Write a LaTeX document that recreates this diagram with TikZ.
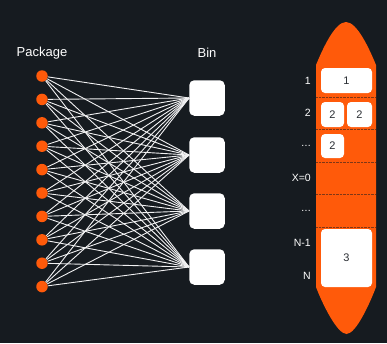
\documentclass[tikz,border=0pt]{standalone}
\usepackage{fontspec}
\setmainfont{Liberation Sans}
\definecolor{bgdark}{HTML}{161B20}
\definecolor{pkgorange}{HTML}{FF5A0A}
\definecolor{slottext}{HTML}{2A2E33}
\newcommand{\rowdots}{.\kern0.4pt.\kern0.4pt.}
\begin{document}
\begin{tikzpicture}[x=1pt,y=-1pt,
    pkg/.style={circle,fill=pkgorange,minimum size=11.5pt,inner sep=0pt},
    bin/.style={fill=white,rounded corners=5pt,minimum size=35.5pt,inner sep=0pt},
    slot/.style={fill=white,rounded corners=4pt,inner sep=0pt,text=slottext,
      font=\fontsize{11}{12}\selectfont},
    rowlbl/.style={anchor=east,text=white,inner sep=0pt,font=\fontsize{10.5}{11}\selectfont},
    title/.style={text=white,font=\fontsize{13}{14}\selectfont}]
    \fill[bgdark] (0,0) rectangle (387,343);
    % left part: packages to bins
    \node[title] (pkgtitle) at (42,53) {Package};
    \node[title] (bintitle) at (207,53) {Bin};
    \foreach \i in {0,...,9}
      \node[pkg] (p\i) at (42,{76+23.4*\i}) {};
    \foreach \j/\y in {0/98,1/155,2/211,3/267}
      \node[bin] (b\j) at (207,\y) {};
    \foreach \i in {0,...,9}
      \foreach \j in {0,...,3}
        \draw[white!94!bgdark,line width=0.9pt] (p\i) -- (b\j.west);
    % right part: the ship
    \fill[pkgorange] (316,65) .. controls (323,48) and (335,22) .. (346,22)
      .. controls (357,22) and (369,48) .. (376,65) -- (376,287)
      .. controls (370,303) and (356,334) .. (346.5,334)
      .. controls (337,334) and (322,303) .. (316,287) -- cycle;
    \foreach \y in {97,129,162,194,227}{
      \coordinate (sl\y) at (316,\y);
      \coordinate (sr\y) at (376,\y);
      \draw[bgdark!55!pkgorange,densely dotted,line width=0.4pt] (sl\y) -- (sr\y);
    }
    \foreach \t/\y in {1/81,2/113,\rowdots/146,X=0/178,\rowdots/211,N-1/243,N/276}
      \node[rowlbl] at (311,\y) {\t};
    \node[slot,minimum width=51pt,minimum height=25pt] (s1) at (346.5,80.5) {1};
    \node[slot,minimum width=23pt,minimum height=25pt] (s2a) at (332.5,114.5) {2};
    \node[slot,minimum width=25pt,minimum height=25pt] (s2b) at (359.5,114.5) {2};
    \node[slot,minimum width=23pt,minimum height=24pt] (s2c) at (332.5,146) {2};
    \node[slot,minimum width=51pt,minimum height=58pt] (s3) at (346.5,258) {3};
  \end{tikzpicture}
\end{document}
